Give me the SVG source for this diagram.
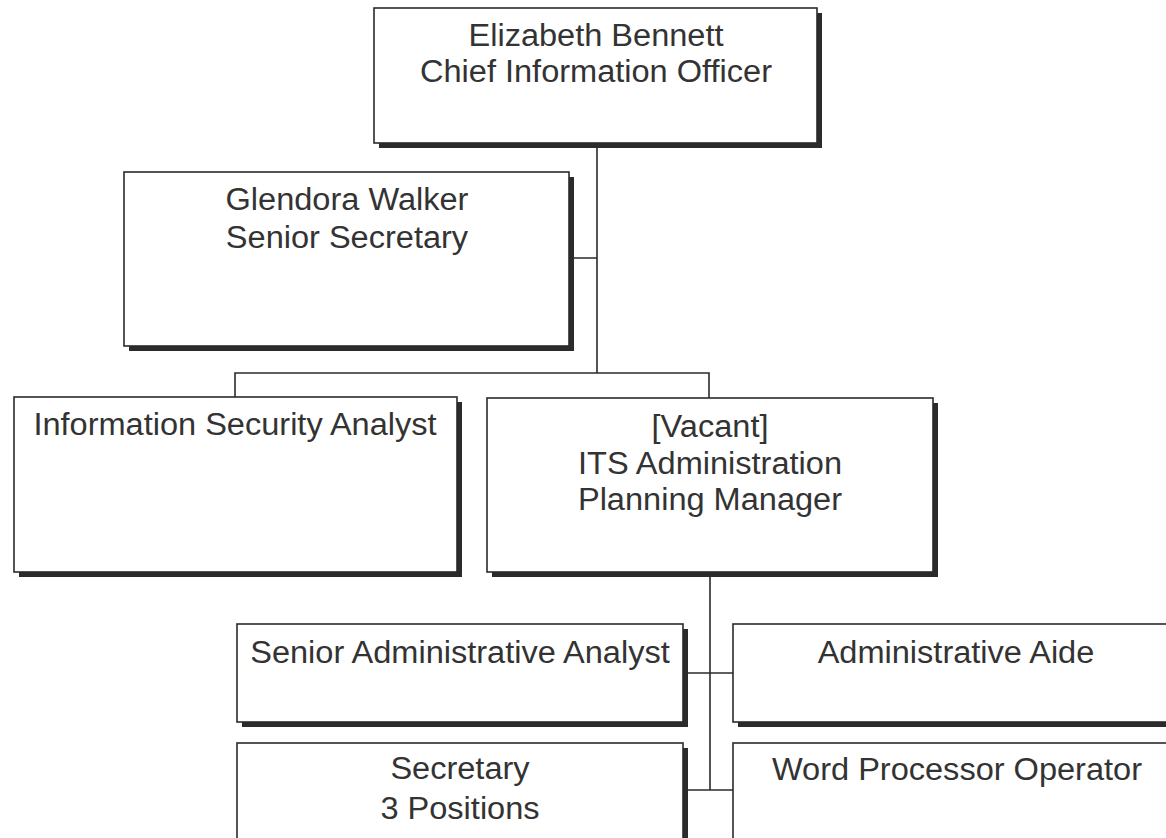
<svg xmlns="http://www.w3.org/2000/svg" width="1166" height="838" viewBox="0 0 1166 838">
<style>
.sh{fill:#2b2b2b}
.bx{fill:#fff;stroke:#2b2b2b;stroke-width:1.6}
.t{font-family:"Liberation Sans",Arial,sans-serif;font-size:31px;fill:#333;text-anchor:middle;transform-box:fill-box;transform-origin:center;transform:scaleX(1.05)}
.c{fill:none;stroke:#2b2b2b;stroke-width:1.6}
</style>
<rect width="1166" height="838" fill="#fff"/>
<g id="connectors">
<path class="c" d="M597 143V373M569 258H597M235 397V373H709V398M710 572V790M683 673H733M683 790H733"/>
</g>
<g id="n-cio">
<rect class="sh" x="379" y="13" width="443" height="135"/>
<rect class="bx" x="374" y="8" width="443" height="135"/>
<text class="t" x="596" y="46">Elizabeth Bennett</text>
<text class="t" x="596" y="82">Chief Information Officer</text>
</g>
<g id="n-secretary-senior">
<rect class="sh" x="129" y="177" width="445" height="174"/>
<rect class="bx" x="124" y="172" width="445" height="174"/>
<text class="t" x="347" y="210">Glendora Walker</text>
<text class="t" x="347" y="248">Senior Secretary</text>
</g>
<g id="n-infosec">
<rect class="sh" x="19" y="402" width="443" height="175"/>
<rect class="bx" x="14" y="397" width="443" height="175"/>
<text class="t" x="235" y="435">Information Security Analyst</text>
</g>
<g id="n-manager">
<rect class="sh" x="492" y="403" width="446" height="174"/>
<rect class="bx" x="487" y="398" width="446" height="174"/>
<text class="t" x="710" y="437">[Vacant]</text>
<text class="t" x="710" y="474">ITS Administration</text>
<text class="t" x="710" y="510">Planning Manager</text>
</g>
<g id="n-saa">
<rect class="sh" x="242" y="629" width="446" height="98"/>
<rect class="bx" x="237" y="624" width="446" height="98"/>
<text class="t" x="460" y="663">Senior Administrative Analyst</text>
</g>
<g id="n-aide">
<rect class="sh" x="738" y="629" width="446" height="98"/>
<rect class="bx" x="733" y="624" width="446" height="98"/>
<text class="t" x="956" y="663">Administrative Aide</text>
</g>
<g id="n-secretary">
<rect class="sh" x="242" y="748" width="446" height="110"/>
<rect class="bx" x="237" y="743" width="446" height="110"/>
<text class="t" x="460" y="779">Secretary</text>
<text class="t" x="460" y="819">3 Positions</text>
</g>
<g id="n-wpo">
<rect class="sh" x="738" y="748" width="446" height="110"/>
<rect class="bx" x="733" y="743" width="446" height="110"/>
<text class="t" x="957" y="780">Word Processor Operator</text>
</g>
</svg>
